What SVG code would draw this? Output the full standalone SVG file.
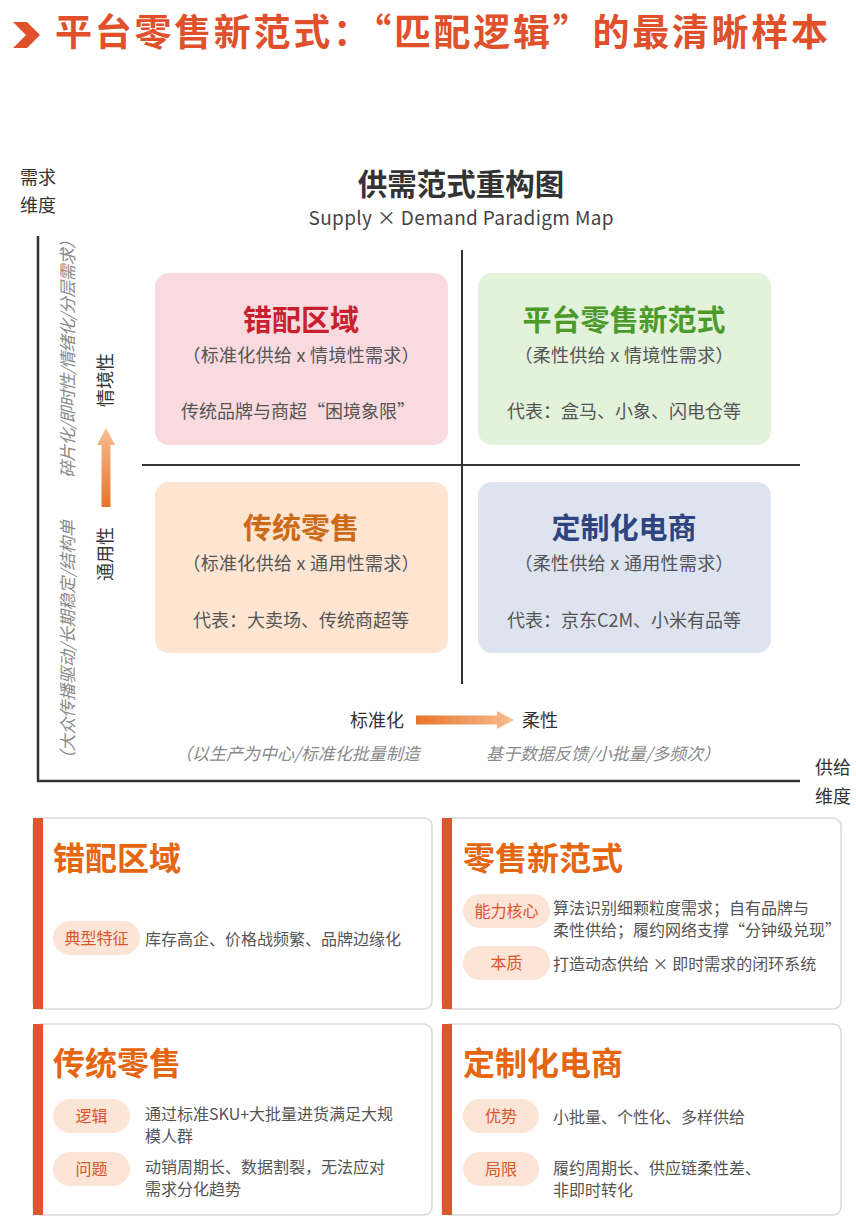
<svg xmlns="http://www.w3.org/2000/svg" width="856" height="1230" viewBox="0 0 856 1230">
<defs>
<linearGradient id="gh" x1="0" y1="0" x2="1" y2="0"><stop offset="0" stop-color="#E8742A"/><stop offset="1" stop-color="#F7BE92"/></linearGradient>
<linearGradient id="gv" x1="0" y1="1" x2="0" y2="0"><stop offset="0" stop-color="#E8742A"/><stop offset="1" stop-color="#F7BE92"/></linearGradient>
<style>
text{font-family:"Noto Sans CJK SC","Noto Sans",sans-serif;}
.axis{stroke:#333;stroke-width:2.5;fill:none;}
.cross{stroke:#333;stroke-width:2;fill:none;}
.qt{font-size:29px;font-weight:700;text-anchor:middle;}
.qs{font-size:18px;fill:#555;text-anchor:middle;}
.lab{font-size:18px;fill:#333;}
.it{font-size:17px;fill:#8a8a8a;font-style:italic;}
.card{fill:#fff;stroke:#DADADA;stroke-width:1.5;}
.bar{fill:#E0552E;}
.ct{font-size:32px;font-weight:700;fill:#E6650F;}
.pill{fill:#FCE4D6;}
.pt{font-size:16px;fill:#D9552C;text-anchor:middle;}
.bt{font-size:16px;fill:#555;}
</style>
</defs>
<rect width="856" height="1230" fill="#fff"/>
<g id="header">
<polygon points="13,22 27,22 40,35 27,48 13,48 26,35" fill="#E0502A"/>
<text x="55" y="46" font-size="37" font-weight="700" fill="#E0502A" textLength="773" lengthAdjust="spacing">平台零售新范式：“匹配逻辑”的最清晰样本</text>
</g>
<g id="chart-title">
<text x="461" y="195" font-size="29.5" font-weight="700" fill="#333" text-anchor="middle">供需范式重构图</text>
<text x="461" y="225" font-size="19" fill="#444" text-anchor="middle" textLength="305" lengthAdjust="spacing">Supply × Demand Paradigm Map</text>
</g>
<g id="connectors">
<polyline class="axis" points="38,236 38,781 800,781"/>
<line class="cross" x1="462" y1="250" x2="462" y2="684"/>
<line class="cross" x1="142" y1="465" x2="800" y2="465"/>
<polygon points="101.5,507 110.5,507 110.5,445 115,445 106,428 97,445 101.5,445" fill="url(#gv)"/>
<polygon points="416,715.5 497,715.5 497,711 514,720 497,729 497,724.5 416,724.5" fill="url(#gh)"/>
</g>
<g id="axis-labels">
<text class="lab" x="20" y="184">需求</text>
<text class="lab" x="20" y="212">维度</text>
<text class="lab" x="815" y="774">供给</text>
<text class="lab" x="815" y="803">维度</text>
<text class="lab" transform="translate(112,380) rotate(-90)" text-anchor="middle">情境性</text>
<text class="lab" transform="translate(112,554) rotate(-90)" text-anchor="middle">通用性</text>
<text class="lab" x="350" y="727">标准化</text>
<text class="lab" x="522" y="727">柔性</text>
<text class="it" transform="translate(74,355) rotate(-90)" text-anchor="middle" textLength="246" lengthAdjust="spacing">碎片化/即时性/情绪化/分层需求）</text>
<text class="it" transform="translate(74,644) rotate(-90)" text-anchor="middle" textLength="248" lengthAdjust="spacing">（大众传播驱动/长期稳定/结构单</text>
<text class="it" x="175" y="760">（以生产为中心/标准化批量制造</text>
<text class="it" x="486" y="760">基于数据反馈/小批量/多频次）</text>
</g>
<g id="q-mismatch">
<rect x="155" y="273" width="293" height="172" rx="14" fill="#F9DADF"/>
<text class="qt" x="301" y="331" fill="#C8202F">错配区域</text>
<text class="qs" x="301" y="362" textLength="237" lengthAdjust="spacing">（标准化供给 x 情境性需求）</text>
<text class="qs" x="298" y="418">传统品牌与商超“困境象限”</text>
</g>
<g id="q-platform">
<rect x="478" y="273" width="293" height="172" rx="14" fill="#E2F2DB"/>
<text class="qt" x="624" y="331" fill="#4C9A2A">平台零售新范式</text>
<text class="qs" x="624" y="362" textLength="219" lengthAdjust="spacing">（柔性供给 x 情境性需求）</text>
<text class="qs" x="624" y="418">代表：盒马、小象、闪电仓等</text>
</g>
<g id="q-traditional">
<rect x="155" y="482" width="293" height="171" rx="14" fill="#FDE5D2"/>
<text class="qt" x="301" y="539" fill="#CC6A18">传统零售</text>
<text class="qs" x="301" y="570" textLength="237" lengthAdjust="spacing">（标准化供给 x 通用性需求）</text>
<text class="qs" x="301" y="627">代表：大卖场、传统商超等</text>
</g>
<g id="q-custom">
<rect x="478" y="482" width="293" height="171" rx="14" fill="#DEE3F0"/>
<text class="qt" x="624" y="539" fill="#2E4480">定制化电商</text>
<text class="qs" x="624" y="570" textLength="219" lengthAdjust="spacing">（柔性供给 x 通用性需求）</text>
<text class="qs" x="624" y="627">代表：京东C2M、小米有品等</text>
</g>
<g id="card-mismatch">
<rect class="card" x="33" y="818" width="399" height="191" rx="8"/>
<rect class="bar" x="33" y="818" width="10" height="191"/>
<text class="ct" x="53" y="870">错配区域</text>
<rect class="pill" x="53" y="921" width="87" height="34" rx="17"/>
<text class="pt" x="96.5" y="944">典型特征</text>
<text class="bt" x="145" y="945">库存高企、价格战频繁、品牌边缘化</text>
</g>
<g id="card-newparadigm">
<rect class="card" x="442" y="818" width="399" height="191" rx="8"/>
<rect class="bar" x="442" y="818" width="10" height="191"/>
<text class="ct" x="463" y="870">零售新范式</text>
<rect class="pill" x="463" y="894" width="87" height="34" rx="17"/>
<text class="pt" x="506.5" y="917">能力核心</text>
<text class="bt" x="553" y="914">算法识别细颗粒度需求；自有品牌与</text>
<text class="bt" x="553" y="936">柔性供给；履约网络支撑“分钟级兑现”</text>
<rect class="pill" x="463" y="946" width="87" height="34" rx="17"/>
<text class="pt" x="506.5" y="969">本质</text>
<text class="bt" x="553" y="970">打造动态供给 × 即时需求的闭环系统</text>
</g>
<g id="card-traditional">
<rect class="card" x="33" y="1024" width="399" height="191" rx="8"/>
<rect class="bar" x="33" y="1024" width="10" height="191"/>
<text class="ct" x="53" y="1075">传统零售</text>
<rect class="pill" x="53" y="1099" width="77" height="34" rx="17"/>
<text class="pt" x="91.5" y="1122">逻辑</text>
<text class="bt" x="145" y="1120">通过标准SKU+大批量进货满足大规</text>
<text class="bt" x="145" y="1142">模人群</text>
<rect class="pill" x="53" y="1152" width="77" height="34" rx="17"/>
<text class="pt" x="91.5" y="1175">问题</text>
<text class="bt" x="145" y="1173">动销周期长、数据割裂，无法应对</text>
<text class="bt" x="145" y="1195">需求分化趋势</text>
</g>
<g id="card-custom">
<rect class="card" x="442" y="1024" width="399" height="191" rx="8"/>
<rect class="bar" x="442" y="1024" width="10" height="191"/>
<text class="ct" x="463" y="1075">定制化电商</text>
<rect class="pill" x="463" y="1099" width="76" height="34" rx="17"/>
<text class="pt" x="501" y="1122">优势</text>
<text class="bt" x="553" y="1123">小批量、个性化、多样供给</text>
<rect class="pill" x="463" y="1152" width="76" height="34" rx="17"/>
<text class="pt" x="501" y="1175">局限</text>
<text class="bt" x="553" y="1174">履约周期长、供应链柔性差、</text>
<text class="bt" x="553" y="1196">非即时转化</text>
</g>
</svg>
